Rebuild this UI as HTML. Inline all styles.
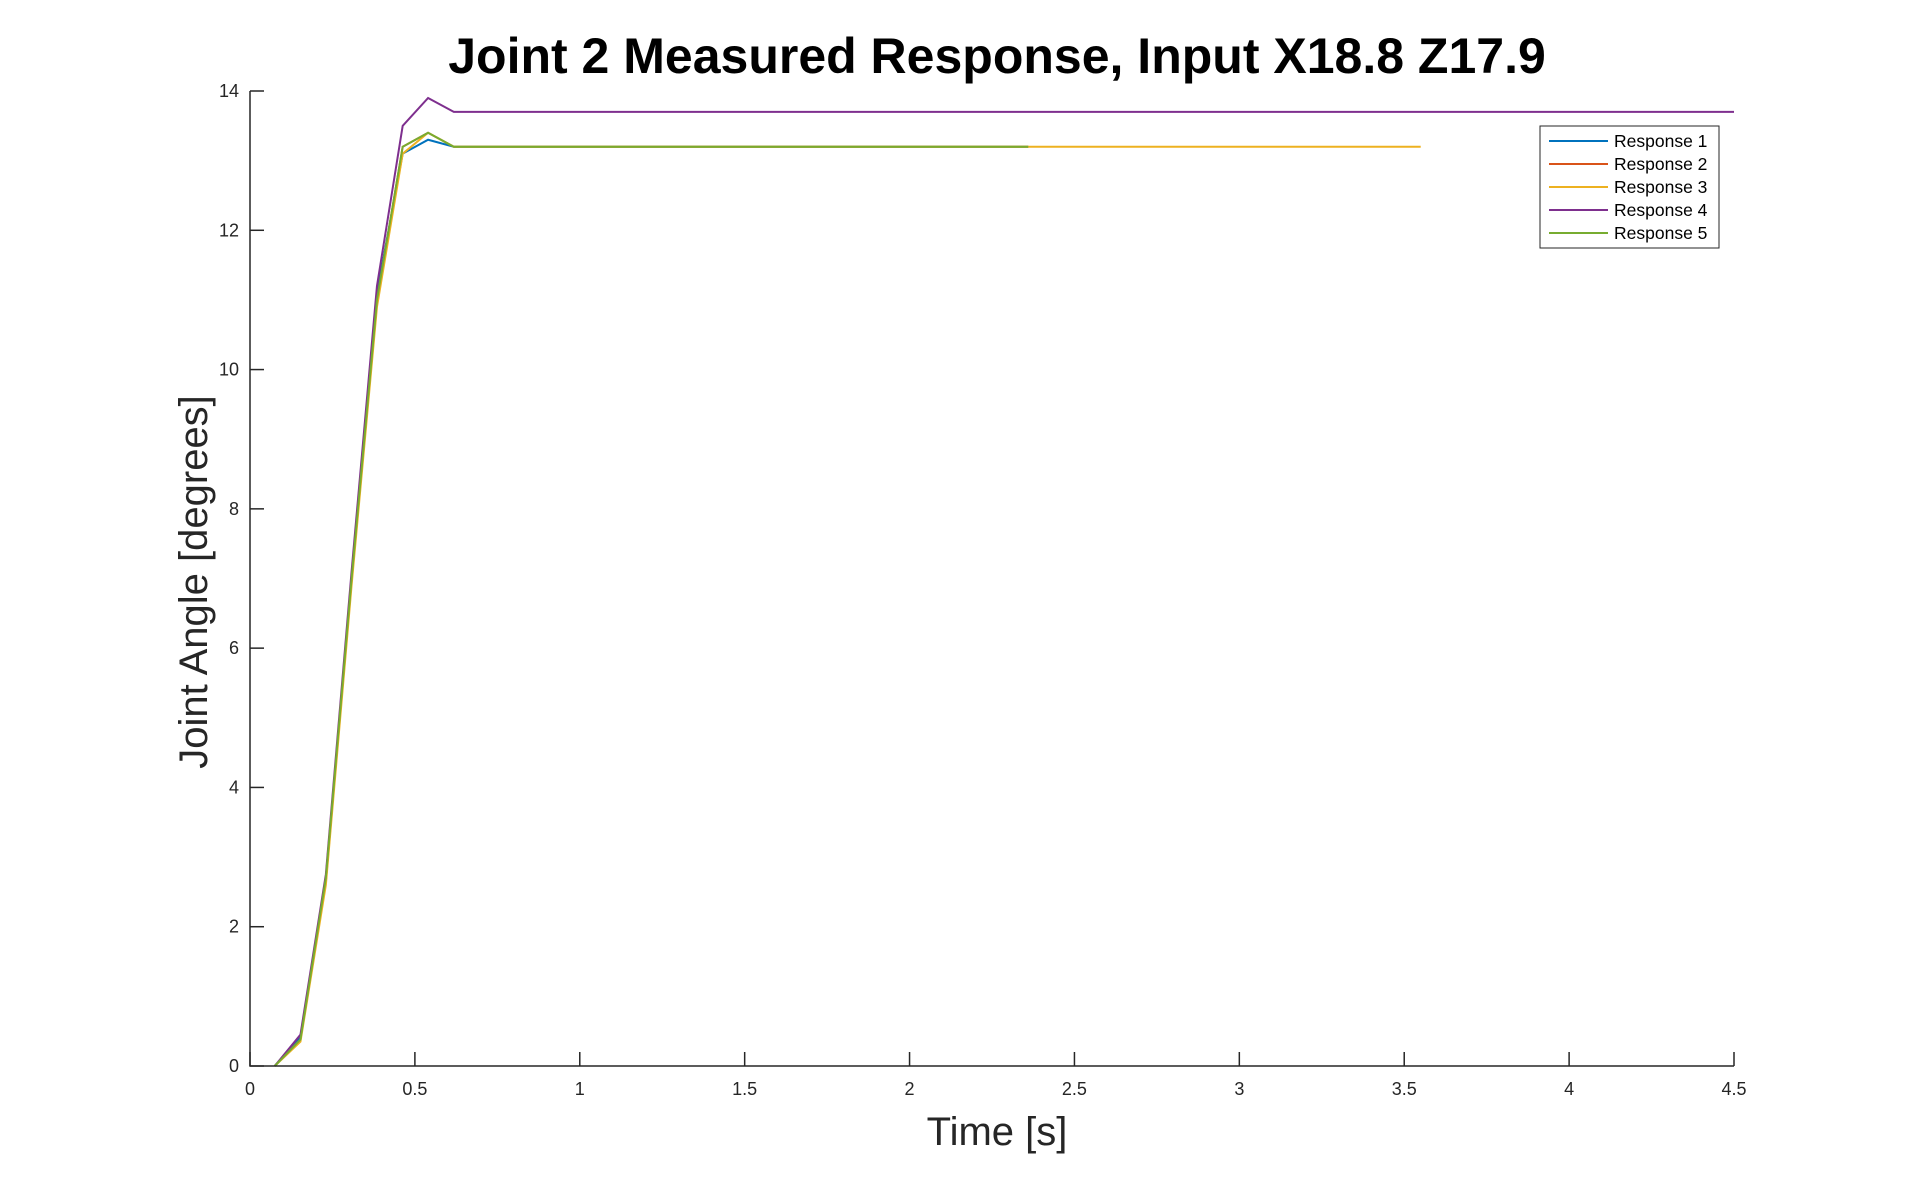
<!DOCTYPE html>
<html><head><meta charset="utf-8"><style>
body{margin:0;background:#fff;}
svg{display:block;font-family:"Liberation Sans",Arial,sans-serif;}
</style></head><body>
<svg id="chart" width="1916" height="1198" viewBox="0 0 1916 1198" xmlns="http://www.w3.org/2000/svg">
<text x="997" y="73" text-anchor="middle" font-size="50" font-weight="bold" fill="#000">Joint 2 Measured Response, Input X18.8 Z17.9</text>
<text transform="translate(207,582) rotate(-90)" text-anchor="middle" font-size="40" fill="#262626">Joint Angle [degrees]</text>
<text x="997" y="1145" text-anchor="middle" font-size="40" fill="#262626">Time [s]</text>
<g id="grid"></g>
<g id="series"></g>
<g id="axes"></g>
<g id="legend"></g>
</svg>
<script>
const xTicks=[0,0.5,1,1.5,2,2.5,3,3.5,4,4.5];
const yTicks=[0,2,4,6,8,10,12,14];
const names=["Response 1","Response 2","Response 3","Response 4","Response 5"];
const colors=["#0072BD","#D95319","#EDB120","#7E2F8E","#77AC30"];
const times=[0.075,0.153,0.23,0.308,0.385,0.463,0.54,0.618];
const r1=[0,0.42,2.65,7.0,11.1,13.1,13.3,13.2];
const r2=[0,0.38,2.7,7.0,11.0,13.2,13.4,13.2];
const r3=[0,0.35,2.6,6.9,10.9,13.1,13.4,13.2];
const r4=[0,0.45,2.75,7.1,11.2,13.5,13.9,13.7];
const r5=[0,0.38,2.7,7.0,11.0,13.2,13.4,13.2];
const endTimes=[2.36,2.36,3.55,4.5,2.36];
const series=[r1,r2,r3,r4,r5];
const NS="http://www.w3.org/2000/svg";
const X0=250,X1=1734,Y0=1066,Y1=91;
const xs=v=>X0+(v-0)/(4.5-0)*(X1-X0);
const ys=v=>Y0-(v-0)/(14-0)*(Y0-Y1);
function mk(t,a,p){const e=document.createElementNS(NS,t);for(const k in a)e.setAttribute(k,a[k]);p.appendChild(e);return e;}
const sg=document.getElementById('series');
series.forEach((s,i)=>{
  let pts=s.map((v,j)=>xs(times[j])+','+ys(v));
  pts.push(xs(endTimes[i])+','+ys(s[s.length-1]));
  const p=mk('polyline',{points:pts.join(' '),fill:'none',stroke:colors[i],'stroke-width':2},sg);
  
  
});
const ag=document.getElementById('axes');
const ax=mk('path',{d:`M${X0},${Y1} V${Y0} H${X1}`,fill:'none',stroke:'#262626','stroke-width':1.5},ag);


xTicks.forEach(t=>{
  const x=xs(t);
  mk('line',{x1:x,y1:Y0,x2:x,y2:Y0-14,stroke:'#262626','stroke-width':1.5},ag);
  const tx=mk('text',{x:x,y:Y0+29,'text-anchor':'middle','font-size':18,fill:'#262626'},ag);
  tx.textContent=String(t);
  
  
});
yTicks.forEach(t=>{
  const y=ys(t);
  mk('line',{x1:X0,y1:y,x2:X0+14,y2:y,stroke:'#262626','stroke-width':1.5},ag);
  const tx=mk('text',{x:X0-11,y:y+6,'text-anchor':'end','font-size':18,fill:'#262626'},ag);
  tx.textContent=String(t);
  
  
});
const lg=document.getElementById('legend');
const box=mk('rect',{x:1540,y:126,width:179,height:122,fill:'#fff',stroke:'#262626','stroke-width':1},lg);


names.forEach((n,i)=>{
  const y=141+i*23;
  mk('line',{x1:1549,y1:y,x2:1608,y2:y,stroke:colors[i],'stroke-width':2},lg);
  const tx=mk('text',{x:1614,y:y+6,'font-size':17.5,fill:'#000'},lg);
  tx.textContent=n;
  
  
});
</script>
</body></html>
